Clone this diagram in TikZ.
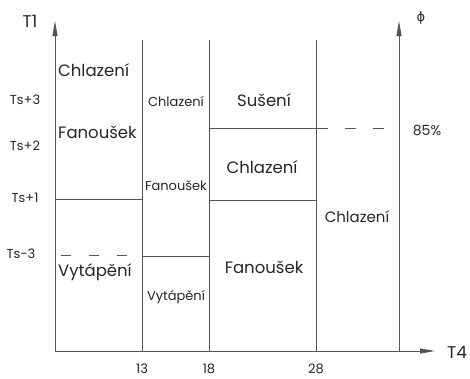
\documentclass[tikz,border=0pt]{standalone}
\usepackage{fontspec}
\setmainfont{Poppins}
\newfontfamily\symfont{DejaVu Sans}
\usetikzlibrary{arrows.meta}
\definecolor{linegray}{RGB}{85, 85, 85}

\begin{document}
\begin{tikzpicture}[x=1pt,y=-1pt,
	axis/.style={linegray,line width=0.9pt,-{Triangle[length=15pt,width=5pt]}},
	bound/.style={linegray,line width=0.9pt},
	huge/.style={font=\fontsize{17}{17}\selectfont,text=black!85,inner sep=0pt},
	big/.style={font=\fontsize{16.5}{16.5}\selectfont,text=black!85,inner sep=0pt},
	mid/.style={font=\fontsize{15}{15}\selectfont,text=black!85,inner sep=0pt},
	small/.style={font=\fontsize{13}{13}\selectfont,text=black!85,inner sep=0pt}]
	\useasboundingbox (0,0) rectangle (470,378);
	% axes
	\coordinate (o) at (55,351);
	\coordinate (ytop) at (55,21);
	\coordinate (xend) at (435,351);
	\coordinate (p) at (399,351);
	\coordinate (ptop) at (399,21);
	\draw[axis](o) -- (ytop);
	\draw[axis](o) -- (xend);
	\draw[axis](p) -- (ptop);
	\node[huge] (t1) at (30,21) {T1};
	\node[huge] (t4) at (457,352) {T4};
	\node[small] (phi) at (421,18) {\symfont ϕ};
	% vertical bounds
	\coordinate (a) at (142,351);
	\coordinate (b) at (209,351);
	\coordinate (c) at (316,351);
	\draw[bound](a) -- (142,40);
	\draw[bound](b) -- (209,40);
	\draw[bound](c) -- (316,40);
	\node[small] (n13) at (142,369) {13};
	\node[small] (n18) at (209,369) {18};
	\node[small] (n28) at (316,369) {28};
	% T1 levels
	\node[small] (ts3) at (25,100) {Ts+3};
	\node[small] (ts2) at (25,146) {Ts+2};
	\node[small] (ts1) at (25,198) {Ts+1};
	\node[small] (tsm3) at (21,254) {Ts-3};
	% horizontal bounds
	\draw[bound](55,199) -- (142,199);
	\draw[bound](142,256) -- (209,256);
	\draw[bound](209,200) -- (316,200);
	\draw[bound](209,128) -- (328,128);
	\draw[bound,dash pattern=on 11pt off 17pt](345,128) -- (390,128);
	\draw[bound,dash pattern=on 10pt off 18pt](61,255) -- (130,255);
	\node[small,font=\fontsize{14}{14}\selectfont] (rh) at (427,130) {85\%};
	% Zones
	\node[big,anchor=west] (c1) at (58,70) {Chlazení};
	\node[big,anchor=west] (f1) at (58,132) {Fanoušek};
	\node[big,anchor=west] (v1) at (58,272) {Vytápění};
	\node[small] (c2) at (176,101) {Chlazení};
	\node[small] (f2) at (176,186) {Fanoušek};
	\node[small] (v2) at (176,297) {Vytápění};
	\node[big] (s3) at (264,100) {Sušení};
	\node[big] (c3) at (262,167) {Chlazení};
	\node[big] (f3) at (264,267) {Fanoušek};
	\node[mid] (c4) at (357,217) {Chlazení};
\end{tikzpicture}
\end{document}
